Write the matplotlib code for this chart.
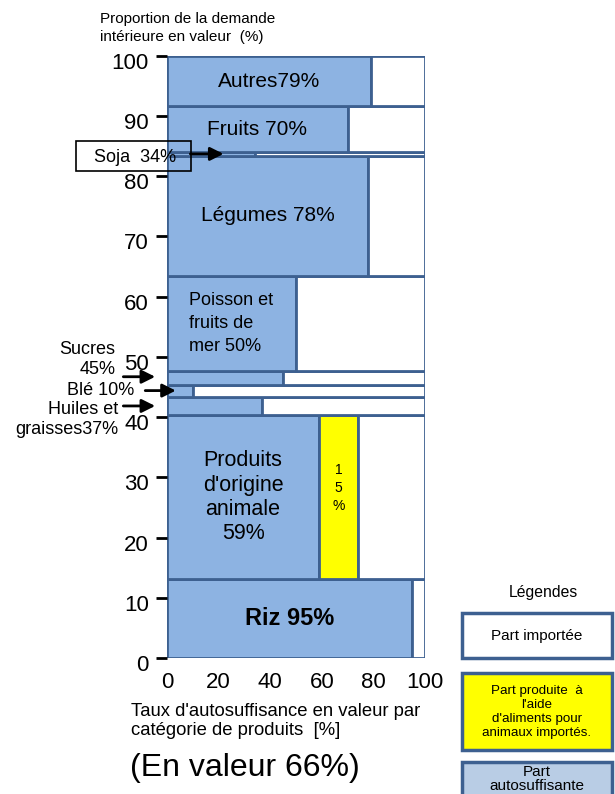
import matplotlib.pyplot as plt
from matplotlib.patches import Rectangle
from matplotlib.transforms import ScaledTranslation

plt.rcParams['font.family'] = ['Liberation Sans', 'DejaVu Sans']

# rows from bottom to top
categories = ['Riz', "Produits d'origine animale", 'Huiles et graisses', 'Blé', 'Sucres',
              'Poisson et fruits de mer', 'Légumes', 'Soja', 'Fruits', 'Autres']
demand_share = [13.1, 27.2, 3.1, 2.0, 2.2, 15.9, 19.9, 0.6, 7.6, 8.4]   # % of domestic demand
self_suff = [95, 59, 37, 10, 45, 50, 78, 34, 70, 79]                     # % self-sufficiency
feed_import = [0, 15, 0, 0, 0, 0, 0, 0, 0, 0]                           # % made with imported feed

inside_labels = {'Riz': 'Riz 95%',
                 "Produits d'origine animale": "Produits\nd'origine\nanimale\n59%",
                 'Poisson et fruits de mer': 'Poisson et\nfruits de\nmer 50%',
                 'Légumes': 'Légumes 78%',
                 'Fruits': 'Fruits 70%',
                 'Autres': 'Autres79%'}

blue = '#8DB3E2'
edge = '#3D6090'

fig = plt.figure(figsize=(6.15, 7.94), dpi=100)
ax = fig.add_axes([0.2715, 0.1713, 0.4195, 0.7585])

bottoms = []
b = 0
for h in demand_share:
    bottoms.append(b)
    b += h

for cat, h, y0, ss, fi in zip(categories, demand_share, bottoms, self_suff, feed_import):
    ax.barh(y0, ss, height=h, left=0, align='edge', color=blue, edgecolor=edge, linewidth=2)
    if fi:
        ax.barh(y0, fi, height=h, left=ss, align='edge', color='#FFFF00', edgecolor=edge, linewidth=2)
    ax.barh(y0, 100 - ss - fi, height=h, left=ss + fi, align='edge', color='white',
            edgecolor=edge, linewidth=2)
    if cat in inside_labels:
        if cat == 'Riz':
            ax.text(ss / 2, y0 + h / 2, inside_labels[cat], ha='center', va='center',
                    fontsize=17, fontweight='bold')
        elif cat == 'Poisson et fruits de mer':
            ax.text(ss / 2, y0 + h / 2, inside_labels[cat], ha='center', va='center',
                    fontsize=13, multialignment='left', linespacing=1.45)
        elif cat == "Produits d'origine animale":
            ax.text(ss / 2, y0 + h / 2, inside_labels[cat], ha='center', va='center',
                    fontsize=15.5, linespacing=1.2)
        else:
            ax.text(ss / 2, y0 + h / 2, inside_labels[cat], ha='center', va='center', fontsize=15)
    if fi:
        ax.text(ss + fi / 2, y0 + h / 2 + 1.5, '1\n5\n%', ha='center', va='center', fontsize=10,
                linespacing=1.35)

ax.set_xlim(0, 100)
ax.set_ylim(0, 100)
ax.set_yticks(range(0, 101, 10))
ax.set_xticks(range(0, 101, 20))
ax.tick_params(axis='y', direction='out', length=8, width=2, labelsize=16, pad=5)
ax.tick_params(axis='x', length=0, labelsize=16, pad=10)
shift = ScaledTranslation(0, -5 / 100, fig.dpi_scale_trans)
for lbl in ax.get_yticklabels():
    lbl.set_transform(lbl.get_transform() + shift)
for s in ax.spines.values():
    s.set_visible(False)

# labels for thin rows, with arrows
arrow = dict(arrowstyle='-|>', color='black', lw=2, mutation_scale=20)
y_sucres = bottoms[4] + demand_share[4] / 2
y_ble = bottoms[3] + demand_share[3] / 2
y_huiles = bottoms[2] + demand_share[2] / 2
y_soja = bottoms[7] + demand_share[7] / 2

ax.text(-20, 49.6, 'Sucres\n45%', ha='right', va='center', fontsize=13, linespacing=1.2,
        multialignment='right', clip_on=False)
ax.annotate('', xy=(-3.5, y_sucres + 0.2), xytext=(-18, y_sucres + 0.2), arrowprops=arrow,
            annotation_clip=False)
ax.text(-12.5, y_ble, 'Blé 10%', ha='right', va='center', fontsize=13, clip_on=False)
ax.annotate('', xy=(4.5, y_ble), xytext=(-9.5, y_ble), arrowprops=arrow, annotation_clip=False)
ax.text(-19, 39.6, 'Huiles et\ngraisses37%', ha='right', va='center', fontsize=13,
        linespacing=1.2, multialignment='right', clip_on=False)
ax.annotate('', xy=(-3.5, y_huiles), xytext=(-18, y_huiles), arrowprops=arrow,
            annotation_clip=False)

ax.add_patch(Rectangle((-35.3, 80.9), 44.7, 5.0, fill=False, edgecolor='black', lw=1.2,
                       clip_on=False))
ax.text(-12.3, 83.1, 'Soja  34%', ha='center', va='center', fontsize=13, clip_on=False)
ax.annotate('', xy=(23, y_soja), xytext=(8, y_soja), arrowprops=arrow, annotation_clip=False)

# axis titles
fig.text(100 / 615, 1 - 28 / 794, 'Proportion de la demande\nintérieure en valeur  (%)',
         ha='left', va='center', fontsize=11, linespacing=1.3)
fig.text(131 / 615, 1 - 721 / 794, "Taux d'autosuffisance en valeur par\ncatégorie de produits  [%]",
         ha='left', va='center', fontsize=13.3, linespacing=1.2)
fig.text(130 / 615, 1 - 768 / 794, '(En valeur 66%)', ha='left', va='center', fontsize=23)

# legend boxes
fig.text(543 / 615, 1 - 593 / 794, 'Légendes', ha='center', va='center', fontsize=11.3)
fig.add_artist(Rectangle((462 / 615, 1 - 658 / 794), 150 / 615, 45 / 794, transform=fig.transFigure,
                         facecolor='white', edgecolor=edge, lw=2.5))
fig.text(537 / 615, 1 - 636 / 794, 'Part importée', ha='center', va='center', fontsize=11)
fig.add_artist(Rectangle((462 / 615, 1 - 750 / 794), 150 / 615, 77 / 794, transform=fig.transFigure,
                         facecolor='#FFFF00', edgecolor=edge, lw=2.5))
fig.text(537 / 615, 1 - 712 / 794, "Part produite  à\nl'aide\nd'aliments pour\nanimaux importés.",
         ha='center', va='center', fontsize=9.6, linespacing=1.2)
fig.add_artist(Rectangle((462 / 615, 1 - 810 / 794), 150 / 615, 48 / 794, transform=fig.transFigure,
                         facecolor='#B9CDE5', edgecolor=edge, lw=2.5))
fig.text(537 / 615, 1 - 779 / 794, 'Part\nautosuffisante', ha='center', va='center', fontsize=11,
         linespacing=1.0)

fig.savefig('out.png', dpi=100)
